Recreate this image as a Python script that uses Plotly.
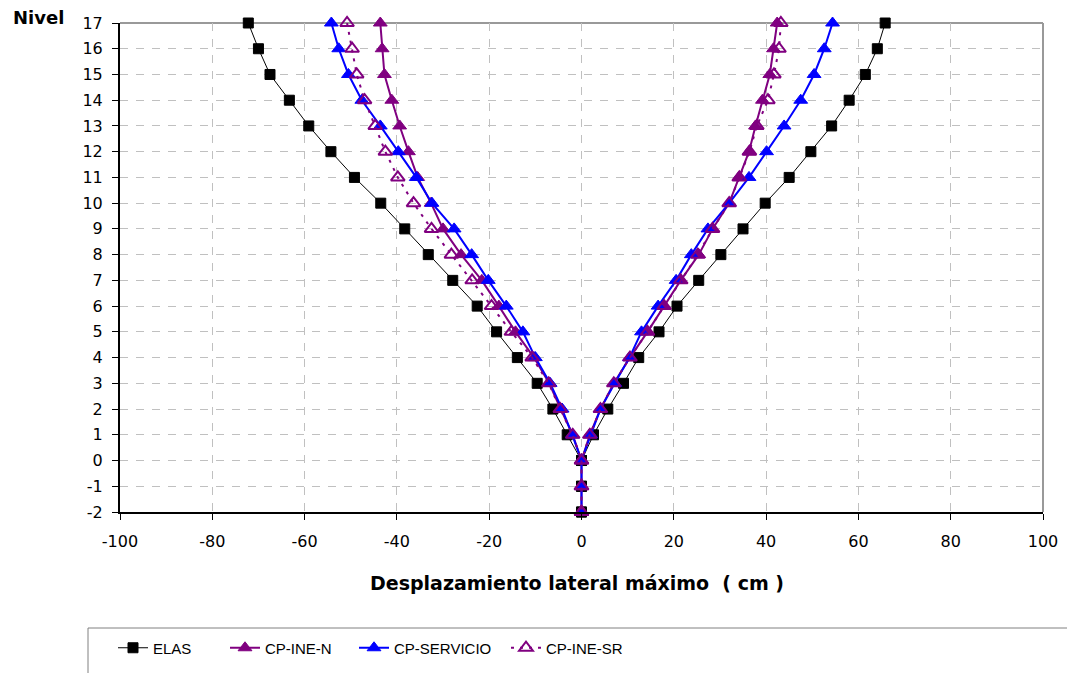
import plotly.graph_objects as go

levels = [17, 16, 15, 14, 13, 12, 11, 10, 9, 8, 7, 6, 5, 4, 3, 2, 1, 0, -1, -2]

elas_left = [-72.2, -70.0, -67.5, -63.3, -59.1, -54.3, -49.2, -43.5, -38.3, -33.2,
             -27.9, -22.6, -18.4, -13.9, -9.6, -6.2, -3.1, 0, 0, 0]
elas_right = [65.8, 64.1, 61.5, 58.0, 54.2, 49.7, 45.0, 39.8, 35.0, 30.2,
              25.4, 20.7, 16.8, 12.4, 9.1, 5.7, 2.6, 0, 0, 0]
inen_left = [-43.6, -43.2, -42.7, -41.1, -39.4, -37.5, -35.5, -32.6, -30.0, -26.1,
             -21.6, -17.9, -14.3, -10.3, -7.0, -4.5, -1.9, 0, 0, 0]
inen_right = [42.4, 41.6, 40.8, 39.2, 37.7, 36.3, 34.1, 32.0, 28.4, 25.4,
              21.5, 17.9, 14.3, 10.5, 7.0, 4.1, 1.8, 0, 0, 0]
serv_left = [-54.2, -52.6, -50.5, -47.6, -43.6, -39.7, -35.8, -32.4, -27.6, -23.8,
             -20.2, -16.3, -12.7, -10.0, -6.8, -4.2, -2.0, 0, 0, 0]
serv_right = [54.4, 52.6, 50.4, 47.5, 43.9, 40.1, 36.3, 32.0, 27.4, 23.8,
              20.5, 16.6, 13.0, 10.4, 7.2, 4.1, 2.0, 0, 0, 0]
insr_left = [-50.8, -49.7, -48.7, -47.0, -44.7, -42.5, -39.8, -36.4, -32.5, -28.2,
             -23.7, -19.5, -15.2, -10.7, -7.1, -4.6, -1.9, 0, 0, 0]
insr_right = [43.2, 42.8, 41.7, 40.4, 38.0, 36.4, 34.2, 32.0, 28.4, 25.2,
              21.5, 17.9, 14.3, 10.5, 7.0, 4.1, 1.8, 0, 0, 0]

series_names = ["ELAS", "CP-INE-N", "CP-SERVICIO", "CP-INE-SR"]

x_tick_vals = [-100, -80, -60, -40, -20, 0, 20, 40, 60, 80, 100]
x_tick_text = ["-100", "-80", "-60", "-40", "-20", "0", "20", "40", "60", "80", "100"]
y_tick_vals = list(range(-2, 18))
y_tick_text = [str(v) for v in y_tick_vals]

x_title = "Desplazamiento lateral máximo  ( cm )"
y_title = "Nivel"

PURPLE = "#800080"
BLUE = "#0000FF"

# figure geometry helpers (plot area in px)
W, H = 1067, 673
L, R, T, B = 120, 24, 23, 161
PW, PH = W - L - R, H - T - B


def px_x(p):
    return (p - L) / PW


def px_y(p):
    return (H - B - p) / PH


def both(left, right):
    return left + right[::-1], levels + levels[::-1]


fig = go.Figure()

styles = [
    dict(line=dict(color="black", width=1),
         marker=dict(symbol="square", size=10, color="black", line=dict(color="black", width=1))),
    dict(line=dict(color=PURPLE, width=2),
         marker=dict(symbol="triangle-up", size=12, color=PURPLE, line=dict(color=PURPLE, width=1))),
    dict(line=dict(color=BLUE, width=2),
         marker=dict(symbol="triangle-up", size=12, color=BLUE, line=dict(color=BLUE, width=1))),
    dict(line=dict(color=PURPLE, width=2, dash="3px,6px"),
         marker=dict(symbol="triangle-up-open", size=12, color=PURPLE, line=dict(color=PURPLE, width=2))),
]
data = [(elas_left, elas_right), (inen_left, inen_right),
        (serv_left, serv_right), (insr_left, insr_right)]
legend_ids = ["legend", "legend2", "legend3", "legend4"]

for name, (lft, rgt), st, lid in zip(series_names, data, styles, legend_ids):
    xs, ys = both(lft, rgt)
    fig.add_trace(go.Scatter(x=xs, y=ys, mode="lines+markers", name=name,
                             legend=lid, cliponaxis=False, **st))

legend_font = dict(family="Liberation Sans Narrow, Arial Narrow, Liberation Sans, Arial",
                   size=15, color="black")
legend_starts = [113, 225, 354, 506]
legend_layouts = {}
for lid, sx in zip(legend_ids, legend_starts):
    legend_layouts[lid] = dict(x=px_x(sx), xanchor="left", y=px_y(648), yanchor="middle",
                               orientation="h", font=legend_font, bgcolor="rgba(0,0,0,0)",
                               borderwidth=0, itemclick=False, itemdoubleclick=False)

tick_font = dict(family="DejaVu Sans, Arial", size=16, color="black")
grid = dict(showgrid=True, gridcolor="#c0c0c0", gridwidth=1, griddash="8px,8px")

fig.update_layout(
    width=W, height=H,
    margin=dict(l=L, r=R, t=T, b=B, autoexpand=False),
    paper_bgcolor="white", plot_bgcolor="white",
    showlegend=True,
    xaxis=dict(range=[-100, 100], tickmode="array", tickvals=x_tick_vals, ticktext=x_tick_text,
               ticks="outside", ticklen=6, tickwidth=1, tickcolor="black",
               showline=True, linecolor="black", linewidth=2, zeroline=False,
               tickfont=tick_font, ticklabelstandoff=8, fixedrange=True, **grid),
    yaxis=dict(range=[-2, 17], tickmode="array", tickvals=y_tick_vals, ticktext=y_tick_text,
               ticks="outside", ticklen=6, tickwidth=1, tickcolor="black",
               showline=True, linecolor="black", linewidth=2, zeroline=False,
               tickfont=tick_font, ticklabelstandoff=6, fixedrange=True, **grid),
    shapes=[
        dict(type="line", xref="paper", yref="paper", x0=0, x1=1, y0=1, y1=1,
             line=dict(color="#999999", width=2), layer="below"),
        dict(type="line", xref="paper", yref="paper", x0=1, x1=1, y0=0, y1=1,
             line=dict(color="#999999", width=2), layer="below"),
        dict(type="rect", xref="paper", yref="paper",
             x0=px_x(88), x1=px_x(1080), y0=px_y(690), y1=px_y(628),
             line=dict(color="#808080", width=1), fillcolor="rgba(0,0,0,0)"),
    ],
    annotations=[
        dict(text=y_title, xref="paper", yref="paper", x=px_x(11), y=px_y(17),
             xanchor="left", yanchor="middle", showarrow=False,
             font=dict(family="DejaVu Sans, Arial", size=18, color="black", weight="bold")),
        dict(text=x_title, xref="paper", yref="paper", x=px_x(576.5), y=px_y(583),
             xanchor="center", yanchor="middle", showarrow=False,
             font=dict(family="DejaVu Sans, Arial", size=19, color="black", weight="bold")),
    ],
    **legend_layouts,
)

fig.write_html("out.html", config={"displayModeBar": False},
               post_script="document.body.style.margin='0';document.body.style.overflow='hidden';")
